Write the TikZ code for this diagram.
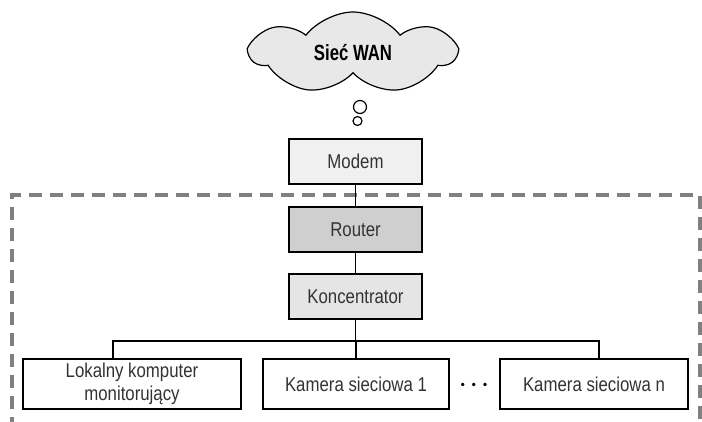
\documentclass[tikz,border=0pt]{standalone}
\usepackage{fontspec}
\setmainfont{Liberation Sans}[FakeStretch=0.84]
\newfontfamily\wanfont{Liberation Sans}[FakeStretch=0.76]
\usetikzlibrary{shapes.symbols}

\begin{document}
\begin{tikzpicture}
[x=0.5pt,y=-0.5pt,font=\fontsize{10}{11.5}\selectfont,
box/.style={draw,line width=0.6pt,minimum width=66.5pt,minimum height=22.5pt,inner sep=0pt,text=black!80},
endbox/.style={box,fill=white,minimum height=25pt,align=center},
bubble/.style={draw,circle,line width=0.6pt,fill=white,inner sep=0pt},]

\useasboundingbox (0,0) rectangle (702,422);

%Local network (open at the bottom)
\draw[gray,line width=1.6pt,dash pattern=on 6.5pt off 4pt] (12,430) -- (12,195) -- (700,195) -- (700,430);

%Cloud
\node (W) at (353,53)[cloud,cloud puffs=7,cloud puff arc=105,aspect=2.6,draw,line width=0.6pt,fill=gray!18,minimum width=102pt,minimum height=41pt,inner sep=0pt,font=\wanfont\fontsize{11}{13}\selectfont\bfseries] {Sieć WAN};
\node (b1) at (360,107)[bubble,minimum size=6.5pt] {};
\node (b2) at (357.5,121)[bubble,minimum size=4.5pt] {};

%Devices
\node (M) at (355.5,161.5)[box,fill=gray!12] {Modem};
\node (R) at (355.5,229.5)[box,fill=gray!38] {Router};
\node (K) at (355.5,296.5)[box,fill=gray!20] {Koncentrator};

\node (L) at (132,384)[endbox,minimum width=109pt] {Lokalny komputer\\monitorujący};
\node (C1) at (356,384)[endbox,minimum width=93pt] {Kamera sieciowa 1};
\node (Cn) at (594,384)[endbox,minimum width=94pt] {Kamera sieciowa n};
\node (D) at (474,385)[font=\fontsize{11}{11}\selectfont\boldmath] {$\cdots$};

%Bus
\coordinate (BL) at (113,341);
\coordinate (BR) at (599,341);

%Joining
\draw[line width=0.6pt] (M) -- (R) -- (K) -- (K |- BL);
\draw[line width=0.6pt] (BL |- L.north) -- (BL) -- (BR) -- (BR |- Cn.north);
\draw[line width=0.6pt] (C1.north) -- (C1 |- BL);

\end{tikzpicture}
\end{document}
